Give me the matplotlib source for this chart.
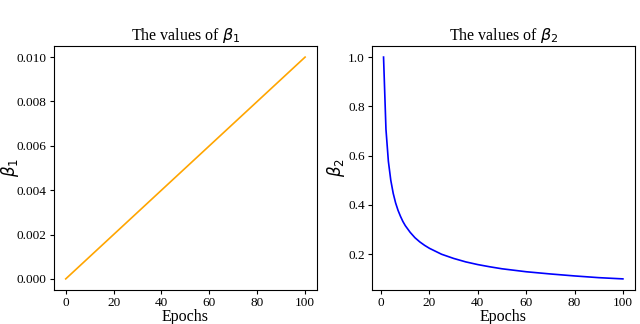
import matplotlib
matplotlib.use('Agg')
import matplotlib.pyplot as plt

plt.rcParams['font.family'] = ['Liberation Serif', 'DejaVu Serif']
plt.rcParams['mathtext.fontset'] = 'dejavusans'

# beta1: straight line from 0 to 0.01
epochs_b1 = [0, 100]
beta1 = [0.0, 0.01]

# beta2
epochs_b2 = [1, 2, 3, 4, 5, 6, 7, 8, 9, 10, 12, 14, 16, 18, 20, 25, 30, 35, 40, 45,
             50, 60, 70, 80, 90, 100]
beta2 = [1.0, 0.707, 0.577, 0.5, 0.447, 0.408, 0.378, 0.354, 0.333, 0.316, 0.289,
         0.267, 0.25, 0.236, 0.224, 0.2, 0.183, 0.169, 0.158, 0.149,
         0.141, 0.129, 0.12, 0.112, 0.105, 0.1]

fig, (ax1, ax2) = plt.subplots(1, 2, figsize=(6.4, 3.24), dpi=100)
fig.subplots_adjust(left=0.084, right=0.992, top=0.858, bottom=0.105, wspace=0.207)

ax1.plot(epochs_b1, beta1, color='orange', linewidth=1.2)
ax1.set_title(r'The values of $\beta_1$', fontsize=11.5, pad=4)
ax1.set_xlabel('Epochs', fontsize=11.5, labelpad=0)
ax1.set_ylabel(r'$\beta_1$', fontsize=12)
ax1.yaxis.set_label_coords(-0.125, 0.5)
ax1.set_yticks([0.0, 0.002, 0.004, 0.006, 0.008, 0.010])
ax1.set_yticklabels(['0.000', '0.002', '0.004', '0.006', '0.008', '0.010'])

ax2.plot(epochs_b2, beta2, color='blue', linewidth=1.2)
ax2.set_title(r'The values of $\beta_2$', fontsize=11.5, pad=4)
ax2.set_xlabel('Epochs', fontsize=11.5, labelpad=0)
ax2.set_ylabel(r'$\beta_2$', fontsize=12)
ax2.yaxis.set_label_coords(-0.094, 0.5)
ax2.set_yticks([0.2, 0.4, 0.6, 0.8, 1.0])

for ax in (ax1, ax2):
    ax.set_xticks([0, 20, 40, 60, 80, 100])
    ax.tick_params(labelsize=9.5, length=3, pad=2)

plt.savefig('out.png', dpi=100)
